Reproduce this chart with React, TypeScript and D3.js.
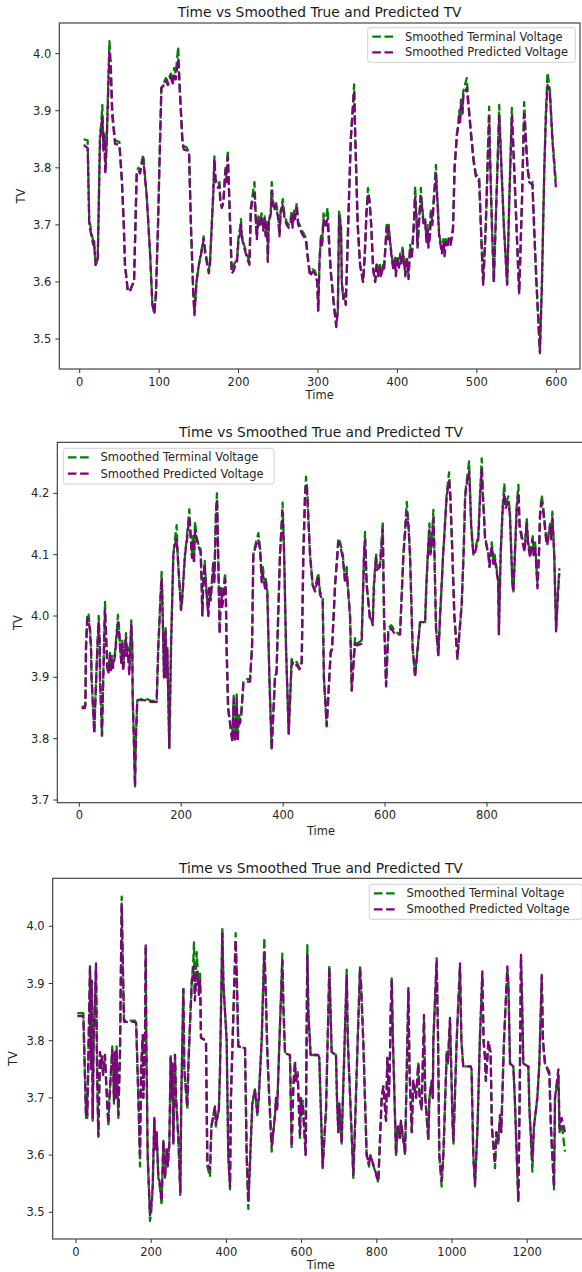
import React from 'react';
import * as d3 from 'd3';

const TITLE = 'Time vs Smoothed True and Predicted TV';
const LEGEND_LABELS = ['Smoothed Terminal Voltage', 'Smoothed Predicted Voltage'];
const COLORS = ['#008000', '#800080'];

// rows: [time, smoothed terminal voltage, smoothed predicted voltage]
const run1: number[][] = [
  [5, 3.85, 3.84], [10, 3.848, 3.835], [12, 3.71, 3.70], [17, 3.67, 3.665], [18, 3.675, 3.67],
  [20, 3.63, 3.63], [22.7, 3.64, 3.64], [25.6, 3.86, 3.85], [27, 3.875, 3.87], [28.5, 3.91, 3.89],
  [30, 3.83, 3.83], [31, 3.86, 3.855], [32.3, 3.795, 3.79], [34, 3.85, 3.845], [37.4, 4.022, 4.005],
  [39, 3.985, 3.975], [41, 3.90, 3.89], [44.5, 3.848, 3.842], [50, 3.845, 3.84], [53, 3.78, 3.78],
  [55.5, 3.70, 3.70], [57, 3.63, 3.63], [60.5, 3.585, 3.585], [63, 3.583, 3.583], [66.3, 3.595, 3.595],
  [68.4, 3.60, 3.60], [71.8, 3.795, 3.79], [74, 3.80, 3.795], [76, 3.795, 3.79], [78, 3.81, 3.805],
  [80, 3.823, 3.815], [84.4, 3.75, 3.75], [88.6, 3.65, 3.65], [91.5, 3.56, 3.56], [94, 3.543, 3.548],
  [96, 3.58, 3.58], [98.6, 3.70, 3.70], [100.3, 3.80, 3.80], [102.8, 3.94, 3.94], [105, 3.945, 3.943],
  [108.3, 3.957, 3.953], [111, 3.952, 3.945], [114.6, 3.965, 3.96], [117, 3.95, 3.945], [119, 3.975, 3.965],
  [121, 3.965, 3.955], [124, 4.012, 3.99], [126, 3.94, 3.935], [129.3, 3.85, 3.845], [131, 3.838, 3.832],
  [135, 3.835, 3.83], [137.7, 3.825, 3.825], [140, 3.70, 3.70], [143, 3.58, 3.58], [144.5, 3.545, 3.542],
  [147, 3.60, 3.60], [150, 3.63, 3.63], [154.5, 3.665, 3.66], [156, 3.68, 3.675], [158, 3.655, 3.65],
  [162.5, 3.62, 3.615], [164, 3.635, 3.63], [168.3, 3.76, 3.76], [169.6, 3.82, 3.815], [171, 3.78, 3.775],
  [174, 3.77, 3.765], [176, 3.775, 3.77], [177, 3.745, 3.74], [179, 3.73, 3.73], [181, 3.745, 3.74],
  [183.5, 3.80, 3.795], [185, 3.78, 3.775], [186.4, 3.83, 3.82], [188, 3.76, 3.76], [191.4, 3.62, 3.615],
  [194, 3.63, 3.62], [196, 3.635, 3.63], [198, 3.64, 3.635], [200, 3.68, 3.675], [202, 3.695, 3.685],
  [203, 3.71, 3.70], [204, 3.685, 3.68], [206, 3.67, 3.665], [208, 3.66, 3.655], [210, 3.65, 3.645],
  [213.7, 3.635, 3.63], [215.4, 3.73, 3.72], [217, 3.745, 3.74], [220, 3.775, 3.755], [222, 3.705, 3.70],
  [223, 3.68, 3.675], [225, 3.715, 3.71], [227, 3.705, 3.70], [229, 3.72, 3.715], [231, 3.695, 3.69],
  [233, 3.715, 3.71], [234, 3.685, 3.68], [236, 3.705, 3.70], [236.8, 3.64, 3.635], [238, 3.705, 3.70],
  [240.6, 3.725, 3.72], [241.8, 3.775, 3.76], [243, 3.745, 3.74], [245, 3.73, 3.725], [247, 3.74, 3.735],
  [250, 3.715, 3.71], [251.5, 3.685, 3.68], [253, 3.725, 3.72], [255.7, 3.745, 3.735], [258, 3.715, 3.71],
  [260.7, 3.705, 3.70], [263, 3.70, 3.695], [265, 3.705, 3.70], [267, 3.725, 3.715], [268, 3.70, 3.695],
  [270, 3.725, 3.72], [271, 3.715, 3.71], [273.3, 3.738, 3.73], [275, 3.705, 3.70], [277, 3.70, 3.695],
  [279.6, 3.69, 3.685], [282, 3.685, 3.68], [283.8, 3.68, 3.675], [285, 3.675, 3.67], [288, 3.635, 3.63],
  [290, 3.615, 3.61], [293, 3.622, 3.618], [296, 3.62, 3.615], [299, 3.605, 3.60], [300.3, 3.55, 3.548],
  [302, 3.64, 3.64], [304, 3.685, 3.68], [305, 3.665, 3.66], [307, 3.72, 3.71], [309, 3.70, 3.695],
  [312, 3.73, 3.71], [316, 3.62, 3.62], [320, 3.56, 3.56], [323, 3.525, 3.521], [325, 3.55, 3.55],
  [326.6, 3.725, 3.715], [329, 3.70, 3.695], [330, 3.60, 3.60], [332, 3.57, 3.57], [334, 3.58, 3.575],
  [335, 3.56, 3.56], [341.3, 3.85, 3.85], [345.5, 3.946, 3.935], [347, 3.85, 3.85], [350, 3.70, 3.70],
  [353, 3.63, 3.63], [356.8, 3.60, 3.60], [359, 3.65, 3.65], [361, 3.72, 3.72], [363, 3.765, 3.755],
  [365, 3.74, 3.74], [367, 3.70, 3.70], [369.5, 3.625, 3.62], [372, 3.60, 3.60], [374, 3.635, 3.63],
  [376, 3.615, 3.61], [378, 3.63, 3.625], [379, 3.61, 3.61], [382, 3.63, 3.625], [383, 3.62, 3.62],
  [385, 3.665, 3.66], [386.5, 3.70, 3.695], [388, 3.68, 3.675], [389, 3.70, 3.695], [391, 3.67, 3.665],
  [393, 3.645, 3.64], [395, 3.625, 3.62], [397, 3.645, 3.64], [398, 3.615, 3.61], [400, 3.645, 3.64],
  [402, 3.63, 3.625], [403.5, 3.65, 3.645], [405, 3.635, 3.63], [406.4, 3.66, 3.655], [408, 3.645, 3.64],
  [410, 3.615, 3.61], [412, 3.645, 3.64], [414, 3.61, 3.605], [416, 3.665, 3.66], [418, 3.645, 3.64],
  [421, 3.71, 3.705], [422.3, 3.768, 3.75], [424, 3.715, 3.71], [425.3, 3.665, 3.66], [428, 3.725, 3.72],
  [429.5, 3.765, 3.75], [431, 3.735, 3.73], [433, 3.705, 3.70], [435, 3.71, 3.705], [436.6, 3.675, 3.67],
  [438, 3.70, 3.695], [439, 3.665, 3.66], [441, 3.685, 3.68], [442.1, 3.725, 3.72], [444, 3.705, 3.70],
  [445.5, 3.74, 3.735], [448.5, 3.805, 3.79], [450, 3.755, 3.75], [452.6, 3.685, 3.68], [456, 3.655, 3.65],
  [458, 3.675, 3.67], [459.3, 3.65, 3.645], [461, 3.675, 3.67], [463, 3.665, 3.66], [465, 3.68, 3.675],
  [467, 3.67, 3.665], [470, 3.695, 3.69], [472, 3.80, 3.80], [475, 3.86, 3.86], [477, 3.88, 3.875],
  [477.7, 3.90, 3.89], [479, 3.885, 3.88], [480, 3.92, 3.91], [482, 3.905, 3.895], [483, 3.935, 3.925],
  [487.3, 3.957, 3.94], [490, 3.905, 3.90], [492.5, 3.865, 3.86], [496, 3.815, 3.81], [498.7, 3.79, 3.785],
  [501, 3.785, 3.78], [503, 3.785, 3.775], [505, 3.70, 3.70], [508, 3.595, 3.595], [511.3, 3.70, 3.70],
  [515.5, 3.907, 3.89], [517, 3.80, 3.80], [519, 3.70, 3.70], [521.4, 3.60, 3.60], [524.8, 3.75, 3.75],
  [528.2, 3.91, 3.89], [531, 3.80, 3.80], [534, 3.70, 3.70], [538.2, 3.595, 3.595], [541, 3.75, 3.75],
  [544.1, 3.905, 3.89], [547, 3.80, 3.80], [553.3, 3.58, 3.58], [557, 3.75, 3.75], [559.6, 3.915, 3.895],
  [563.8, 3.80, 3.80], [566, 3.78, 3.775], [570, 3.775, 3.77], [572, 3.70, 3.70], [575, 3.60, 3.60],
  [577, 3.545, 3.545], [579.4, 3.478, 3.475], [582, 3.60, 3.60], [585, 3.80, 3.80], [587, 3.90, 3.89],
  [589, 3.967, 3.945], [592, 3.935, 3.93], [595.3, 3.85, 3.845], [599.5, 3.775, 3.766],
];

const run2: number[][] = [
  [4.6, 3.852, 3.85], [11, 3.852, 3.85], [12, 3.86, 3.855], [13, 3.95, 3.945], [15.7, 4.004, 3.995],
  [18, 4.003, 3.995], [21, 3.98, 3.975], [23, 3.95, 3.945], [24, 3.90, 3.90], [29.4, 3.81, 3.81],
  [31, 3.85, 3.85], [35.3, 3.95, 3.945], [38, 4.00, 3.99], [40, 3.96, 3.955], [40.6, 3.90, 3.90],
  [44.5, 3.805, 3.805], [47, 3.90, 3.90], [50.4, 4.023, 4.01], [52, 3.98, 3.975], [55, 3.92, 3.915],
  [57, 3.91, 3.905], [60, 3.94, 3.935], [62, 3.915, 3.91], [64, 3.935, 3.93], [66, 3.92, 3.915],
  [70, 3.94, 3.935], [73, 3.97, 3.965], [75.9, 4.002, 3.99], [78, 3.98, 3.975], [81, 3.94, 3.935],
  [83, 3.925, 3.92], [84.4, 3.96, 3.955], [86, 3.915, 3.91], [91.6, 3.972, 3.965], [93, 3.94, 3.935],
  [95, 3.95, 3.945], [98, 3.91, 3.905], [102, 3.993, 3.985], [104, 3.95, 3.945], [104.7, 3.87, 3.87],
  [107, 3.80, 3.80], [109.3, 3.722, 3.722], [111, 3.80, 3.80], [113.8, 3.863, 3.863], [125, 3.865, 3.863],
  [135, 3.864, 3.862], [140, 3.862, 3.86], [151.8, 3.861, 3.86], [155, 3.95, 3.95], [160.3, 4.05, 4.045],
  [161.6, 4.072, 4.06], [163, 4.03, 4.025], [166.2, 3.90, 3.90], [169.4, 3.98, 3.975], [171, 3.90, 3.90],
  [172.7, 3.95, 3.945], [176.6, 3.785, 3.785], [180, 3.95, 3.95], [184.5, 4.10, 4.10], [187, 4.12, 4.115],
  [191, 4.148, 4.125], [193, 4.10, 4.10], [199.5, 4.012, 4.01], [201, 4.02, 4.015], [207.4, 4.10, 4.10],
  [210, 4.12, 4.115], [215.9, 4.174, 4.16], [218, 4.14, 4.135], [221, 4.10, 4.095], [223, 4.13, 4.125],
  [225, 4.09, 4.085], [227, 4.154, 4.14], [230, 4.13, 4.125], [235, 4.112, 4.11], [238, 4.11, 4.105],
  [240, 4.06, 4.055], [241.4, 4.001, 4.001], [243, 4.05, 4.045], [246, 4.09, 4.085], [248, 4.06, 4.055],
  [253.2, 4.002, 4.0], [255, 4.05, 4.045], [257.8, 4.03, 4.025], [263, 4.09, 4.085], [265, 4.06, 4.055],
  [268.2, 4.17, 4.165], [270.2, 4.20, 4.19], [272.5, 4.10, 4.10], [275.4, 3.972, 3.97], [278, 4.05, 4.045],
  [280.7, 4.02, 4.015], [286, 4.07, 4.06], [287.5, 4.04, 4.035], [289, 3.95, 3.95], [292, 3.85, 3.85],
  [300.3, 3.798, 3.795], [303, 3.87, 3.865], [305.5, 3.80, 3.795], [308.8, 3.872, 3.865], [310.8, 3.80, 3.795],
  [313, 3.84, 3.835], [315.4, 3.83, 3.825], [318, 3.845, 3.84], [322, 3.892, 3.89], [326, 3.897, 3.893],
  [335, 3.897, 3.893], [339, 3.95, 3.95], [341.5, 4.10, 4.10], [346.7, 4.12, 4.115], [351.3, 4.135, 4.125],
  [355, 4.11, 4.105], [357.9, 4.06, 4.055], [360, 4.08, 4.07], [364.4, 4.05, 4.045], [366, 4.06, 4.055],
  [369, 4.04, 4.035], [373, 3.90, 3.90], [377.5, 3.784, 3.782], [384, 3.90, 3.90], [387, 3.91, 3.905],
  [393.8, 4.10, 4.10], [399, 4.185, 4.17], [402, 4.10, 4.10], [405.6, 3.95, 3.95], [410.9, 3.809, 3.808],
  [416.7, 3.93, 3.925], [420, 3.92, 3.918], [426.6, 3.925, 3.92], [432, 3.915, 3.913], [436.4, 3.925, 3.92],
  [439.6, 4.10, 4.10], [443, 4.20, 4.195], [444.9, 4.227, 4.215], [447, 4.21, 4.20], [452.8, 4.10, 4.10],
  [458, 4.05, 4.05], [462.6, 4.045, 4.04], [469, 4.07, 4.065], [472.4, 4.04, 4.035], [477.6, 4.03, 4.025],
  [480, 3.90, 3.90], [485.5, 3.822, 3.82], [493.3, 3.942, 3.94], [496, 3.95, 3.945], [501.9, 4.05, 4.05],
  [508.4, 4.127, 4.12], [512, 4.12, 4.115], [517, 4.10, 4.095], [521.5, 4.06, 4.055], [524.8, 4.08, 4.07],
  [527, 4.05, 4.045], [531.3, 4.00, 4.00], [534, 3.90, 3.90], [534.6, 3.879, 3.878], [541, 3.964, 3.955],
  [545, 3.955, 3.952], [554, 3.96, 3.955], [558.8, 4.10, 4.10], [560.7, 4.137, 4.125], [564, 4.05, 4.05],
  [570.6, 3.996, 3.993], [573, 4.00, 3.995], [575.8, 3.99, 3.985], [578, 4.05, 4.045], [582.3, 4.102, 4.095],
  [584, 4.08, 4.075], [590.2, 4.085, 4.08], [595.5, 4.154, 4.14], [598, 4.00, 4.00], [602, 3.888, 3.885],
  [606.5, 3.98, 3.975], [612, 3.985, 3.98], [619.6, 3.975, 3.97], [629.4, 3.97, 3.97], [636, 4.10, 4.10],
  [642.6, 4.186, 4.17], [646, 4.15, 4.145], [649, 4.10, 4.10], [654, 3.95, 3.95], [658.9, 3.904, 3.90],
  [668.7, 3.99, 3.99], [678.6, 3.99, 3.99], [681, 4.05, 4.05], [685, 4.12, 4.115], [687, 4.151, 4.14],
  [689, 4.10, 4.10], [691.6, 4.12, 4.115], [694.9, 4.173, 4.16], [697, 4.10, 4.10], [700, 3.98, 3.98],
  [704.6, 3.936, 3.935], [708, 4.00, 4.00], [714, 4.10, 4.10], [721, 4.20, 4.195], [725.6, 4.234, 4.22],
  [728, 4.20, 4.195], [732.2, 4.10, 4.10], [736, 4.00, 4.00], [742, 3.933, 3.93], [750.5, 4.02, 4.02],
  [754, 4.10, 4.10], [757.3, 4.20, 4.195], [760.3, 4.22, 4.215], [764.9, 4.252, 4.235], [767, 4.20, 4.195],
  [769, 4.15, 4.145], [773.3, 4.10, 4.10], [777, 4.11, 4.105], [783, 4.13, 4.125], [786.5, 4.20, 4.195],
  [789.7, 4.257, 4.24], [792, 4.20, 4.195], [796.3, 4.13, 4.125], [802.9, 4.10, 4.10], [805, 4.08, 4.08],
  [809.4, 4.12, 4.115], [812.6, 4.09, 4.085], [815, 4.10, 4.095], [822, 4.06, 4.055], [823.4, 3.972, 3.97],
  [826.8, 4.10, 4.10], [830.9, 4.18, 4.175], [834.1, 4.216, 4.20], [836, 4.18, 4.175], [842, 4.195, 4.185],
  [845, 4.17, 4.165], [850, 4.05, 4.05], [852, 4.04, 4.04], [858.4, 4.18, 4.175], [861.7, 4.214, 4.20],
  [864, 4.15, 4.145], [871, 4.12, 4.115], [874, 4.11, 4.105], [878, 4.16, 4.15], [881, 4.12, 4.115],
  [884.6, 4.10, 4.095], [889.8, 4.13, 4.125], [892, 4.10, 4.095], [894.5, 4.12, 4.115], [899.1, 4.05, 4.045],
  [902, 4.10, 4.10], [904.3, 4.17, 4.165], [907.5, 4.197, 4.185], [910, 4.18, 4.175], [916, 4.13, 4.125],
  [918, 4.12, 4.115], [923.8, 4.15, 4.145], [926, 4.13, 4.125], [928.4, 4.17, 4.16], [932, 4.10, 4.10],
  [935, 4.00, 4.00], [935.6, 3.977, 3.975], [940, 4.05, 4.045], [942, 4.078, 4.07],
];

const run3: number[][] = [
  [3.5, 3.848, 3.843], [19.5, 3.848, 3.843], [26.6, 3.665, 3.67], [29, 3.70, 3.70], [30, 3.665, 3.67],
  [37.2, 3.925, 3.93], [40, 3.75, 3.75], [42, 3.90, 3.905], [44.3, 3.66, 3.665], [47, 3.80, 3.80],
  [53.2, 3.93, 3.935], [56, 3.75, 3.75], [59.4, 3.635, 3.632], [63.8, 3.78, 3.78], [66, 3.75, 3.75],
  [69, 3.775, 3.775], [72, 3.74, 3.74], [77, 3.775, 3.775], [80, 3.73, 3.73], [86, 3.652, 3.655],
  [89, 3.70, 3.70], [96.6, 3.79, 3.785], [99, 3.75, 3.75], [101, 3.69, 3.695], [104, 3.78, 3.78],
  [106.4, 3.70, 3.70], [108, 3.79, 3.785], [112.6, 3.665, 3.67], [117, 3.78, 3.78], [121.5, 4.052, 4.04],
  [124, 3.95, 3.95], [127.7, 3.835, 3.833], [157, 3.835, 3.833], [160, 3.83, 3.83], [165.8, 3.70, 3.70],
  [170.2, 3.58, 3.60], [173, 3.75, 3.75], [177.3, 3.80, 3.81], [179, 3.70, 3.70], [183.5, 3.80, 3.81],
  [185.3, 3.965, 3.97], [187, 3.80, 3.80], [190.6, 3.60, 3.60], [196.8, 3.485, 3.495], [200, 3.50, 3.51],
  [203.9, 3.54, 3.545], [208.3, 3.665, 3.665], [211, 3.61, 3.61], [214.5, 3.64, 3.64], [219, 3.56, 3.56],
  [222, 3.55, 3.555], [227.8, 3.513, 3.52], [232.3, 3.625, 3.625], [236.7, 3.56, 3.56], [241, 3.61, 3.61],
  [244, 3.58, 3.58], [248.2, 3.62, 3.62], [251.8, 3.775, 3.77], [254, 3.70, 3.70], [256, 3.76, 3.76],
  [258.9, 3.62, 3.62], [263.3, 3.775, 3.775], [266, 3.70, 3.70], [272.2, 3.63, 3.63], [277.5, 3.528, 3.535],
  [280, 3.70, 3.70], [285.5, 3.894, 3.89], [288, 3.75, 3.75], [296, 3.68, 3.685], [299, 3.76, 3.76],
  [307.6, 3.90, 3.90], [312, 3.94, 3.925], [313.8, 3.972, 3.93], [316, 3.88, 3.87], [321, 3.955, 3.92],
  [323, 3.93, 3.91], [327, 3.89, 3.88], [330, 3.92, 3.905], [332.4, 3.805, 3.805], [345.7, 3.80, 3.80],
  [349.3, 3.58, 3.585], [356.4, 3.562, 3.575], [360, 3.65, 3.65], [369.7, 3.685, 3.685], [372, 3.65, 3.655],
  [380, 3.68, 3.68], [383, 3.75, 3.75], [389.2, 3.999, 3.99], [392, 3.90, 3.90], [400.7, 3.80, 3.80],
  [405, 3.60, 3.60], [409.6, 3.54, 3.545], [412, 3.70, 3.70], [424.6, 3.988, 3.975], [428, 3.90, 3.90],
  [431.7, 3.79, 3.79], [449.5, 3.787, 3.787], [453.9, 3.60, 3.60], [458.3, 3.506, 3.52], [469, 3.69, 3.69],
  [476, 3.715, 3.715], [482.3, 3.67, 3.67], [486, 3.70, 3.70], [493.8, 3.80, 3.80], [500.9, 3.98, 3.955],
  [504, 3.90, 3.90], [508.9, 3.78, 3.78], [514, 3.70, 3.70], [520.4, 3.606, 3.615], [529.3, 3.67, 3.67],
  [532, 3.70, 3.70], [535, 3.68, 3.68], [542.6, 3.83, 3.83], [548.8, 3.952, 3.94], [552, 3.85, 3.85],
  [555.9, 3.78, 3.778], [569, 3.775, 3.775], [573.6, 3.612, 3.615], [578, 3.72, 3.72], [582.4, 3.765, 3.76],
  [585, 3.73, 3.73], [589.5, 3.745, 3.74], [595.7, 3.63, 3.635], [598, 3.70, 3.70], [600.2, 3.67, 3.67],
  [603, 3.695, 3.69], [610.8, 3.60, 3.60], [615.2, 3.967, 3.95], [618, 3.85, 3.85], [624, 3.775, 3.775],
  [644, 3.775, 3.775], [647, 3.77, 3.77], [656, 3.577, 3.58], [665, 3.68, 3.68], [673.8, 3.932, 3.925],
  [680, 3.78, 3.78], [691.5, 3.775, 3.775], [694, 3.70, 3.70], [697.7, 3.64, 3.64], [700, 3.69, 3.69],
  [706.6, 3.62, 3.62], [709, 3.68, 3.68], [720, 3.924, 3.915], [723, 3.80, 3.80], [737.6, 3.56, 3.565],
  [742, 3.65, 3.65], [755.3, 3.93, 3.925], [758, 3.90, 3.90], [764, 3.80, 3.80], [773, 3.60, 3.60],
  [779.3, 3.58, 3.585], [783, 3.60, 3.60], [804, 3.552, 3.555], [813, 3.70, 3.70], [817.4, 3.72, 3.72],
  [824.5, 3.66, 3.66], [828, 3.77, 3.77], [832, 3.70, 3.70], [835.1, 3.775, 3.775], [837, 3.85, 3.85],
  [839.7, 3.909, 3.905], [843, 3.80, 3.80], [851.1, 3.60, 3.60], [856, 3.65, 3.65], [861.7, 3.63, 3.63],
  [864, 3.66, 3.66], [875.2, 3.60, 3.605], [884, 3.885, 3.892], [887, 3.75, 3.75], [893, 3.64, 3.64],
  [897, 3.73, 3.73], [904.3, 3.70, 3.70], [910.5, 3.76, 3.76], [914, 3.70, 3.70], [919.3, 3.68, 3.68],
  [925.5, 3.835, 3.845], [929, 3.70, 3.70], [937, 3.625, 3.63], [940, 3.70, 3.70], [946, 3.73, 3.73],
  [949, 3.70, 3.70], [950.4, 3.80, 3.80], [959.2, 3.935, 3.944], [963, 3.80, 3.80], [966.3, 3.60, 3.60],
  [972.5, 3.545, 3.555], [977, 3.60, 3.60], [986, 3.78, 3.78], [989, 3.76, 3.76], [994.7, 3.835, 3.84],
  [1001.8, 3.65, 3.65], [1004, 3.62, 3.625], [1012.4, 3.80, 3.80], [1021.3, 3.93, 3.935], [1025, 3.80, 3.80],
  [1030, 3.755, 3.755], [1049.6, 3.755, 3.755], [1052, 3.75, 3.75], [1056.7, 3.60, 3.60], [1061.2, 3.545, 3.548],
  [1068, 3.65, 3.65], [1070, 3.70, 3.70], [1074, 3.80, 3.80], [1080.7, 3.915, 3.921], [1084, 3.80, 3.80],
  [1087.8, 3.77, 3.77], [1090, 3.73, 3.73], [1096.6, 3.79, 3.80], [1102.8, 3.775, 3.78], [1106, 3.65, 3.65],
  [1114.4, 3.577, 3.585], [1118, 3.64, 3.64], [1123, 3.62, 3.625], [1127.7, 3.665, 3.67], [1131, 3.64, 3.64],
  [1138.3, 3.80, 3.80], [1147.2, 3.925, 3.93], [1150, 3.90, 3.90], [1154.3, 3.76, 3.76], [1163.1, 3.755, 3.755],
  [1167, 3.70, 3.70], [1176.4, 3.52, 3.517], [1180, 3.70, 3.70], [1183.5, 3.945, 3.95], [1187, 3.85, 3.85],
  [1189.7, 3.76, 3.76], [1203, 3.755, 3.755], [1206, 3.68, 3.68], [1213.7, 3.571, 3.59], [1218, 3.65, 3.65],
  [1227, 3.70, 3.70], [1232.3, 3.76, 3.76], [1238.7, 3.91, 3.915], [1242, 3.80, 3.80], [1247.3, 3.76, 3.76],
  [1259, 3.74, 3.745], [1263, 3.65, 3.65], [1271.3, 3.54, 3.545], [1274, 3.70, 3.70], [1283, 3.74, 3.75],
  [1286, 3.64, 3.645], [1291.7, 3.655, 3.665], [1300.5, 3.606, 3.64],
];

const run1XTicks = [0, 100, 200, 300, 400, 500, 600];
const run1YTicks = [3.5, 3.6, 3.7, 3.8, 3.9, 4.0];
const run2XTicks = [0, 200, 400, 600, 800];
const run2YTicks = [3.7, 3.8, 3.9, 4.0, 4.1, 4.2];
const run3XTicks = [0, 200, 400, 600, 800, 1000, 1200];
const run3YTicks = [3.5, 3.6, 3.7, 3.8, 3.9, 4.0];

const FONT = '"DejaVu Sans", sans-serif';

type PanelCfg = {
  id: string;
  rows: number[][];
  xTicks: number[];
  yTicks: number[];
  frame: { l: number; r: number; t: number; b: number };
  xDom: [number, number];
  yDom: [number, number];
  legend: { x: number; y: number; w: number; h: number; r1: number; r2: number };
  titleY: number;
  tvX: number;
  timeY: number;
};

// pixel geometry
const panels: PanelCfg[] = [
  {
    id: 'p1', rows: run1, xTicks: run1XTicks, yTicks: run1YTicks,
    frame: { l: 59.3, r: 580, t: 23, b: 369 },
    xDom: [-25.7, 629.9], yDom: [3.4475, 4.0537],
    legend: { x: 367.7, y: 27.7, w: 207.6, h: 34.6, r1: 36.7, r2: 52.3 },
    titleY: 12.3, tvX: 20.7, timeY: 395,
  },
  {
    id: 'p2', rows: run2, xTicks: run2XTicks, yTicks: run2YTicks,
    frame: { l: 57.3, r: 584.7, t: 442.3, b: 802.7 },
    xDom: [-43.2, 991.8], yDom: [3.6956, 4.2832],
    legend: { x: 63.3, y: 448.3, w: 210.7, h: 35.7, r1: 457.3, r2: 473.7 },
    titleY: 431.7, tvX: 18.3, timeY: 830.7,
  },
  {
    id: 'p3', rows: run3, xTicks: run3XTicks, yTicks: run3YTicks,
    frame: { l: 52.7, r: 589, t: 878.3, b: 1239 },
    xDom: [-62, 1364.4], yDom: [3.4533, 4.0839],
    legend: { x: 369.3, y: 884.3, w: 213, h: 35, r1: 893.3, r2: 909.3 },
    titleY: 867.7, tvX: 13.3, timeY: 1265,
  },
];

function Panel({ cfg }: { cfg: PanelCfg }) {
  const { frame, legend } = cfg;
  const x = d3.scaleLinear().domain(cfg.xDom).range([frame.l, frame.r]);
  const y = d3.scaleLinear().domain(cfg.yDom).range([frame.b, frame.t]);
  const lineFor = (k: number) =>
    d3.line<number[]>().x(d => x(d[0])).y(d => y(d[k]))(cfg.rows) || '';
  const midX = (frame.l + frame.r) / 2;
  const midY = (frame.t + frame.b) / 2;
  return (
    <g>
      <defs>
        <clipPath id={`clip-${cfg.id}`}>
          <rect x={frame.l} y={frame.t} width={frame.r - frame.l} height={frame.b - frame.t} />
        </clipPath>
      </defs>
      <g clipPath={`url(#clip-${cfg.id})`} fill="none" strokeWidth={2.3} strokeDasharray="8.6,3.6" strokeLinejoin="round">
        <path d={lineFor(1)} stroke={COLORS[0]} />
        <path d={lineFor(2)} stroke={COLORS[1]} />
      </g>
      <rect x={frame.l} y={frame.t} width={frame.r - frame.l} height={frame.b - frame.t}
        fill="none" stroke="#333" strokeWidth={1.1} />
      {cfg.xTicks.map(t => (
        <g key={`x${t}`}>
          <line x1={x(t)} x2={x(t)} y1={frame.b} y2={frame.b + 4} stroke="#333" strokeWidth={1} />
          <text x={x(t)} y={frame.b + 8} dy="0.76em" textAnchor="middle" fontSize={11.5} fill="#262626" fontFamily={FONT}>{t}</text>
        </g>
      ))}
      {cfg.yTicks.map(t => (
        <g key={`y${t}`}>
          <line x1={frame.l - 4} x2={frame.l} y1={y(t)} y2={y(t)} stroke="#333" strokeWidth={1} />
          <text x={frame.l - 8} y={y(t)} dy="0.36em" textAnchor="end" fontSize={11.5} fill="#262626" fontFamily={FONT}>{t.toFixed(1)}</text>
        </g>
      ))}
      <text x={midX} y={cfg.titleY} dy="0.36em" textAnchor="middle" fontSize={13.8} fill="#1a1a1a" fontFamily={FONT}>{TITLE}</text>
      <text x={midX} y={cfg.timeY} dy="0.36em" textAnchor="middle" fontSize={11.5} fill="#262626" fontFamily={FONT}>Time</text>
      <text transform={`translate(${cfg.tvX},${midY}) rotate(-90)`} dy="0.36em" textAnchor="middle" fontSize={11.5} fill="#262626" fontFamily={FONT}>TV</text>
      <rect x={legend.x} y={legend.y} width={legend.w} height={legend.h} rx={2.5}
        fill="#fff" fillOpacity={0.8} stroke="#d0d0d0" strokeWidth={1} />
      {[legend.r1, legend.r2].map((ry, i) => (
        <g key={i}>
          <line x1={legend.x + 4.6} x2={legend.x + 27.6} y1={ry} y2={ry} stroke={COLORS[i]} strokeWidth={2.3} strokeDasharray="8.6,3.6" />
          <text x={legend.x + 37.2} y={ry} dy="0.36em" fontSize={11.5} fill="#262626" fontFamily={FONT}>{LEGEND_LABELS[i]}</text>
        </g>
      ))}
    </g>
  );
}

export default function App() {
  return (
    <svg width={582} height={1272} viewBox="0 0 582 1272"
      style={{ position: 'absolute', left: 0, top: 0, display: 'block', background: '#fff' }}>
      <rect width={582} height={1272} fill="#fff" />
      {panels.map(p => <Panel key={p.id} cfg={p} />)}
    </svg>
  );
}
